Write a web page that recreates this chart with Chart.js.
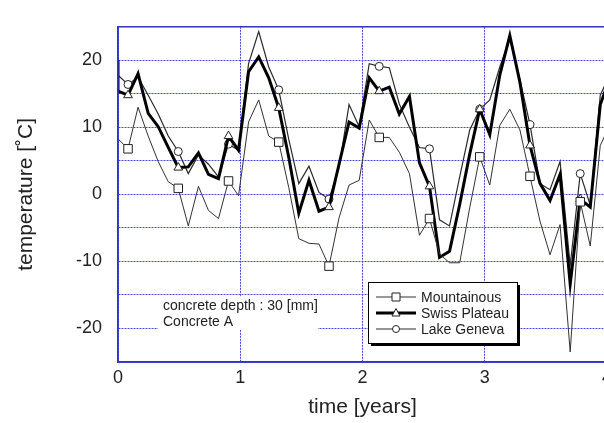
<!DOCTYPE html>
<html>
<head>
<meta charset="utf-8">
<script src="https://cdn.jsdelivr.net/npm/chart.js@4.4.1/dist/chart.umd.min.js"></script>
<style>
  html, body { margin: 0; padding: 0; background: #fff; overflow: hidden; }
  #wrap { width: 620px; height: 423px; }
</style>
</head>
<body>
<div id="wrap"><canvas id="tempChart" width="620" height="423"></canvas></div>
<script>
// time of each sample, in years (one sample every ~30 days)
var years = [0, 0.082, 0.164, 0.247, 0.329, 0.411, 0.493, 0.575, 0.658, 0.740,
    0.822, 0.904, 0.986, 1.068, 1.151, 1.233, 1.315, 1.397, 1.479, 1.562,
    1.644, 1.726, 1.808, 1.890, 1.973, 2.055, 2.137, 2.219, 2.301, 2.384,
    2.466, 2.548, 2.630, 2.712, 2.795, 2.877, 2.959, 3.041, 3.123, 3.205,
    3.288, 3.370, 3.452, 3.534, 3.616, 3.699, 3.781, 3.863, 3.945, 4.027];

var mountainous = [8.3, 6.8, 13.0, 8.7, 4.9, 1.9, 0.9, -4.7, 1.2, -2.4,
    -3.6, 2.0, -0.2, 10.8, 14.1, 8.7, 7.8, 1.0, -6.6, -7.3,
    -7.4, -10.7, -3.5, 1.4, 2.1, 11.1, 8.5, 8.5, 6.3, 3.1,
    -6.1, -3.6, -8.9, -10.2, -10.2, -2.0, 5.6, 1.4, 10.3, 12.7,
    9.6, 2.7, -4.0, -9.0, -4.5, -23.5, -1.1, -7.7, 7.3, 10.5];

var swissStart = 20;
var swissPlateau = [15.4, 14.8, 18.0, 12.1, 10.1, 7.0, 4.0, 4.1, 6.2, 3.0,
    2.35, 8.7, 6.6, 18.3, 20.5, 17.4, 12.9, 5.5, -2.8, 2.1,
    -2.5, -1.9, 4.5, 10.8, 9.9, 17.4, 15.4, 16.0, 12.0, 14.6,
    4.7, 1.2, -9.4, -8.5, -1.5, 6.0, 12.7, 8.9, 17.8, 23.7,
    16.7, 7.3, 1.65, -0.9, 3.0, -13.4, -0.7, -1.9, 13.4, 17.5];

var lakeGeneva = [17.8, 16.4, 17.5, 14.8, 12.0, 8.7, 6.4, 3.1, 5.9, 4.5,
    2.6, 7.5, 6.6, 19.5, 24.3, 19.0, 15.6, 8.2, 1.6, 4.2,
    0.3, -0.7, 4.0, 13.4, 10.1, 19.5, 19.1, 18.9, 13.5, 10.0,
    7.0, 6.8, -3.8, -4.7, 2.6, 9.6, 12.7, 14.1, 19.0, 23.2,
    17.1, 10.4, 1.6, 0.7, 4.9, -10.6, 3.1, -1.6, 14.8, 18.0];

var seriesNames = ['Mountainous', 'Swiss Plateau', 'Lake Geneva'];
var noteLines = ['concrete depth : 30 [mm]', 'Concrete A'];

var FONT = "'Liberation Sans', Arial, sans-serif";
var frameColor = '#3434c4';
var gridColor = '#4a4ae0';

function toPoints(vals) {
    return vals.map(function (v, i) { return { x: years[i], y: v }; });
}

// markers only on every 5th sample
function markerEvery(offset, size) {
    return function (ctx) { return ctx.dataIndex % 5 === offset ? size : 0; };
}

var swissPoints = [{ x: 0, y: swissStart }].concat(toPoints(swissPlateau));

var datasets = [{
    label: seriesNames[0],
    data: toPoints(mountainous),
    borderColor: '#333',
    borderWidth: 1,
    pointStyle: 'rect',
    pointRadius: markerEvery(1, 6),
    pointBackgroundColor: '#fff',
    pointBorderColor: '#222',
    pointBorderWidth: 1
}, {
    label: seriesNames[1],
    data: swissPoints,
    borderColor: '#000',
    borderWidth: 3,
    pointStyle: 'triangle',
    pointRadius: markerEvery(2, 5),
    pointBackgroundColor: '#fff',
    pointBorderColor: '#222',
    pointBorderWidth: 1
}, {
    label: seriesNames[2],
    data: toPoints(lakeGeneva),
    borderColor: '#2a2a2a',
    borderWidth: 1.2,
    pointStyle: 'circle',
    pointRadius: markerEvery(1, 4),
    pointBackgroundColor: '#fff',
    pointBorderColor: '#222',
    pointBorderWidth: 1
}];

// frame, note text and the boxed legend inside the plot
var overlay = {
    id: 'overlay',
    afterDraw: function (chart) {
        var ctx = chart.ctx;
        var a = chart.chartArea;
        ctx.save();
        ctx.strokeStyle = frameColor;
        ctx.lineWidth = 1.5;
        ctx.strokeRect(a.left, a.top, a.right - a.left, a.bottom - a.top);

        // note
        ctx.fillStyle = '#fff';
        ctx.fillRect(a.left + 40, a.top + 270, 160, 33);
        ctx.fillStyle = '#222';
        ctx.font = '14px ' + FONT;
        ctx.textBaseline = 'middle';
        ctx.fillText(noteLines[0], a.left + 45, a.top + 279);
        ctx.fillText(noteLines[1], a.left + 45, a.top + 295);

        // legend box with shadow
        var bx = 368, by = 282, bw = 149, bh = 61;
        ctx.fillStyle = '#000';
        ctx.fillRect(bx + 3, by + 3, bw, bh);
        ctx.fillStyle = '#fff';
        ctx.fillRect(bx, by, bw, bh);
        ctx.strokeStyle = '#000';
        ctx.lineWidth = 1;
        ctx.strokeRect(bx + 0.5, by + 0.5, bw, bh);

        chart.data.datasets.forEach(function (ds, i) {
            var y = by + 15 + i * 16;
            ctx.strokeStyle = ds.borderColor;
            ctx.lineWidth = ds.borderWidth;
            ctx.beginPath();
            ctx.moveTo(bx + 8, y);
            ctx.lineTo(bx + 48, y);
            ctx.stroke();
            ctx.fillStyle = '#fff';
            ctx.strokeStyle = '#222';
            ctx.lineWidth = 1;
            ctx.beginPath();
            if (ds.pointStyle === 'rect') {
                ctx.rect(bx + 24, y - 4, 8, 8);
            } else if (ds.pointStyle === 'circle') {
                ctx.arc(bx + 28, y, 3.5, 0, Math.PI * 2);
            } else {
                ctx.moveTo(bx + 28, y - 4.5);
                ctx.lineTo(bx + 32, y + 3);
                ctx.lineTo(bx + 24, y + 3);
                ctx.closePath();
            }
            ctx.fill();
            ctx.stroke();
            ctx.fillStyle = '#222';
            ctx.font = '14px ' + FONT;
            ctx.textBaseline = 'middle';
            ctx.fillText(ds.label, bx + 53, y + 1);
        });
        ctx.restore();
    }
};

var tempChart = new Chart(document.getElementById('tempChart'), {
    type: 'line',
    data: { datasets: datasets },
    plugins: [overlay],
    options: {
        responsive: false,
        animation: false,
        layout: { padding: { top: 7, right: 13, bottom: 0, left: 0 } },
        plugins: { legend: { display: false }, tooltip: { enabled: false } },
        elements: { line: { tension: 0 } },
        scales: {
            x: {
                type: 'linear',
                min: 0,
                max: 4,
                afterFit: function (s) { s.height = 61; },
                ticks: {
                    stepSize: 1,
                    color: '#222',
                    padding: 5,
                    font: { family: FONT, size: 18 }
                },
                grid: { color: gridColor, lineWidth: 1, drawTicks: false },
                border: { color: frameColor, width: 1.5, dash: [2, 1] },
                title: {
                    display: true,
                    text: 'time [years]',
                    color: '#222',
                    font: { family: FONT, size: 21 },
                    padding: { top: 0, bottom: 3 }
                }
            },
            y: {
                min: -25,
                max: 25,
                afterFit: function (s) { s.width = 118; },
                ticks: {
                    stepSize: 5,
                    color: '#222',
                    padding: 16,
                    font: { family: FONT, size: 18 },
                    callback: function (v) { return v % 10 === 0 ? v : ''; }
                },
                grid: { color: gridColor, lineWidth: 1, drawTicks: false },
                border: { color: frameColor, width: 1.5, dash: [2, 1] },
                title: {
                    display: true,
                    text: 'temperature [˚C]',
                    color: '#222',
                    font: { family: FONT, size: 21 },
                    padding: { top: 14, bottom: 0 }
                }
            }
        }
    }
});
</script>
</body>
</html>
